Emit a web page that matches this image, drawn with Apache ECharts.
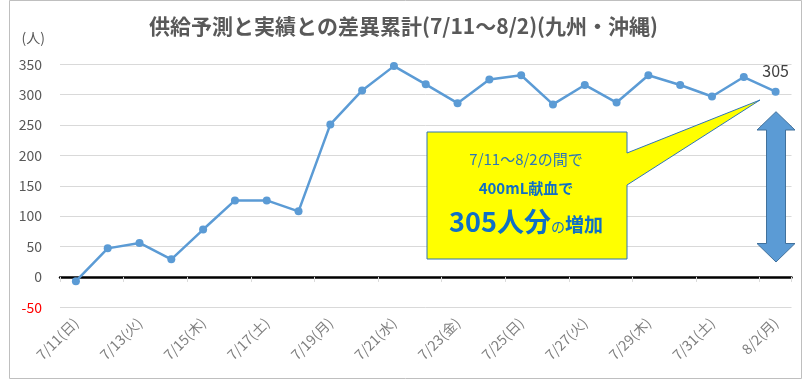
<!DOCTYPE html>
<html>
<head>
<meta charset="utf-8">
<script src="https://cdn.jsdelivr.net/npm/echarts@6/dist/echarts.min.js"></script>
<style>html,body{margin:0;padding:0;background:#fff}#c{width:807px;height:380px}</style>
</head>
<body>
<div id="c"></div>
<script>
var categories = ['7/11(日)','7/12(月)','7/13(火)','7/14(水)','7/15(木)','7/16(金)','7/17(土)','7/18(日)','7/19(月)','7/20(火)','7/21(水)','7/22(木)','7/23(金)','7/24(土)','7/25(日)','7/26(月)','7/27(火)','7/28(水)','7/29(木)','7/30(金)','7/31(土)','8/1(日)','8/2(月)'];
var values = [-7, 47, 56, 29, 78, 126, 126, 108, 251, 307, 347, 317, 286, 325, 332, 284, 316, 287, 332, 316, 297, 329, 305];
var yTicks = [-50, 0, 50, 100, 150, 200, 250, 300, 350];
var titleText = '供給予測と実績との差異累計(7/11～8/2)(九州・沖縄)';

var FONT = '"Noto Sans CJK JP", "Noto Sans", sans-serif';
var chart = echarts.init(document.getElementById('c'));
var seriesData = values.map(function (v, i) {
  if (i === values.length - 1) {
    return { value: v, label: { show: true, position: 'top', distance: 9, fontSize: 16, color: '#404040', fontFamily: FONT } };
  }
  return v;
});

chart.setOption({
  animation: false,
  textStyle: { fontFamily: FONT },
  title: {
    text: titleText, left: 'center', top: 11,
    textStyle: { fontSize: 21, fontWeight: 'bold', color: '#595959', fontFamily: FONT }
  },
  grid: { left: 60, right: 15.5, top: 64.3, bottom: 72.7, containLabel: false },
  xAxis: [{
    type: 'category', data: categories, boundaryGap: true, position: 'bottom',
    axisLine: { show: false, onZero: false }, axisTick: { show: false },
    axisLabel: { interval: 1, rotate: 45, fontSize: 14, color: '#7F7F7F', margin: 13, fontFamily: FONT },
    splitLine: { show: false }
  }, {
    type: 'category', data: categories, boundaryGap: true, position: 'bottom',
    axisLine: { show: true, onZero: true, lineStyle: { color: '#000', width: 2.5 } },
    axisTick: { show: true, interval: 1, length: 5, lineStyle: { color: '#D9D9D9' } },
    axisLabel: { show: false }, splitLine: { show: false }
  }],
  yAxis: {
    type: 'value', min: yTicks[0], max: yTicks[yTicks.length - 1], interval: 50,
    name: '(人)', nameLocation: 'end', nameGap: 20,
    nameTextStyle: { fontSize: 14, color: '#595959', align: 'right', padding: [0, 15, 0, 0], fontFamily: FONT },
    axisLine: { show: false }, axisTick: { show: false },
    axisLabel: { fontSize: 14, margin: 18, fontFamily: FONT,
      color: function (v) { return Number(v) < 0 ? '#FF0000' : '#595959'; } },
    splitLine: { lineStyle: { color: '#D9D9D9', width: 1 } }
  },
  series: [{
    type: 'line', data: seriesData, xAxisIndex: 0,
    symbol: 'circle', symbolSize: 8,
    itemStyle: { color: '#5B9BD5' },
    lineStyle: { color: '#5B9BD5', width: 2.5 },
    z: 5
  }],
  graphic: [
    { type: 'rect', shape: { x: 9.5, y: 0.5, width: 792, height: 378 }, style: { fill: 'none', stroke: '#BFBFBF', lineWidth: 1 }, z: 0 },
    { type: 'polygon', shape: { points: [[427,132],[627,132],[627,153],[760,100],[627,185],[627,259],[427,259]] },
      style: { fill: '#FFFF00', stroke: '#2E75B6', lineWidth: 1 }, z: 10 },
    { type: 'text', x: 526, y: 159, style: { text: '7/11～8/2の間で', fill: '#2E75B6', font: '15px ' + FONT, textAlign: 'center', textVerticalAlign: 'middle' }, z: 11 },
    { type: 'text', x: 526, y: 188, style: { text: '400mL献血で', fill: '#0F6FC6', font: 'bold 15px ' + FONT, textAlign: 'center', textVerticalAlign: 'middle' }, z: 11 },
    { type: 'text', x: 526, y: 222, style: {
        text: '{a|305人分}{b|の}{c|増加}', textAlign: 'center', textVerticalAlign: 'middle',
        rich: {
          a: { fontSize: 27, fontWeight: 'bold', fill: '#0F6FC6', color: '#0F6FC6', fontFamily: FONT, verticalAlign: 'bottom' },
          b: { fontSize: 14, fill: '#0F6FC6', color: '#0F6FC6', fontFamily: FONT, verticalAlign: 'bottom', padding: [0, 0, 2, 0] },
          c: { fontSize: 19, fontWeight: 'bold', fill: '#0F6FC6', color: '#0F6FC6', fontFamily: FONT, verticalAlign: 'bottom', padding: [0, 0, 1, 0] }
        } }, z: 11 },
    { type: 'polygon', shape: { points: [[776,111.7],[795,130],[785.5,130],[785.5,243.5],[795,243.5],[776,262],[757,243.5],[766.5,243.5],[766.5,130],[757,130]] },
      style: { fill: '#5B9BD5', stroke: '#41719C', lineWidth: 1 }, z: 10 }
  ]
});
</script>
</body>
</html>
